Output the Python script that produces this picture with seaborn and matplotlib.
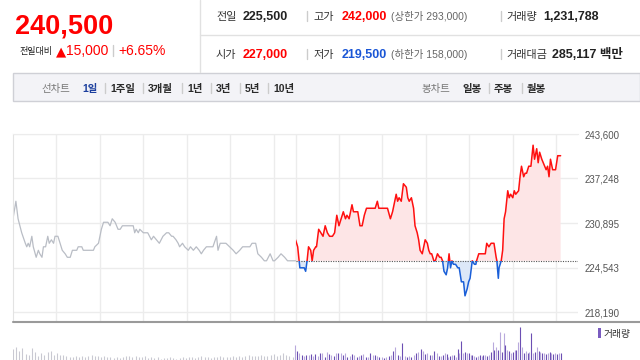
import numpy as np
import matplotlib
matplotlib.use('Agg')
import matplotlib.pyplot as plt
import seaborn as sns
from matplotlib.patches import Rectangle
from matplotlib.lines import Line2D

sns.set_style('white')
plt.rcParams['font.family'] = ['Liberation Sans', 'Noto Sans CJK KR', 'DejaVu Sans']

PREV_CLOSE = 225500

# minutes from previous day's 09:00 (0..390 = previous day, 390..780 = today)
prev_min = [0, 4, 7, 12, 17, 19, 21, 23, 26, 28, 32, 35, 37, 40, 42, 45, 48, 50, 53, 56,
            58, 62, 68, 72, 75, 79, 82, 88, 90, 95, 97, 111, 113, 118, 120, 122, 125, 131, 134, 137,
            141, 143, 145, 148, 151, 166, 168, 170, 173, 175, 180, 186, 191, 194, 198, 202, 207, 212, 215, 219,
            221, 225, 228, 230, 234, 237, 242, 245, 249, 253, 257, 260, 263, 267, 271, 276, 281, 283, 286, 294,
            299, 304, 308, 313, 317, 322, 327, 330, 335, 338, 343, 347, 350, 355, 359, 361, 366, 370, 375, 379,
            390]
prev_price = [231500, 234000, 231500, 229500, 228000, 227500, 228000, 227500, 229000, 227500,
              226000, 227000, 226500, 226000, 227500, 227500, 229000, 228000, 228500, 228000,
              229000, 229000, 227000, 226500, 226000, 226000, 227000, 227000, 227500, 227500,
              227000, 227000, 227500, 228000, 229000, 230000, 231000, 231000, 230500, 231500,
              231000, 230500, 230000, 230000, 230500, 230500, 229500, 230000, 229500, 230000,
              229500, 229500, 228500, 229000, 228500, 228000, 229000, 229500, 229500, 229000,
              229000, 228500, 228000, 227500, 228000, 227500, 227000, 227500, 227000, 227500,
              227000, 226500, 227000, 227500, 227500, 227500, 229000, 227000, 228000, 228000,
              227500, 227000, 226500, 227000, 227500, 227500, 227500, 228000, 228000, 226500,
              226000, 225500, 225500, 226500, 225500, 225500, 226000, 226500, 226000, 225500,
              225500]

today_min = [390, 393, 395, 396, 400, 402, 404, 406, 408, 411,
             413, 415, 418, 419, 422, 425, 428, 431, 434, 437,
             441, 444, 447, 450, 453, 456, 459, 461, 464, 465,
             468, 470, 474, 476, 479, 482, 485, 488, 491, 496,
             498, 500, 503, 505, 510, 514, 517, 521, 524, 529,
             531, 533, 536, 539, 543, 545, 547, 550, 553, 555,
             558, 560, 562, 565, 567, 569, 572, 574, 576, 578,
             581, 583, 586, 589, 591, 593, 595, 598, 600, 602,
             604, 606, 608, 611, 614, 616, 619, 622, 624, 627,
             629, 631, 634, 637, 639, 640, 643, 646, 649, 652,
             654, 657, 660, 664, 667, 668, 670, 671, 674, 676,
             678, 680, 683, 685, 687, 690, 692, 694, 698, 700,
             702, 705, 707, 709, 712, 715, 718, 720, 723, 725,
             727, 730, 732, 736, 738, 740, 742, 745, 747, 749,
             752, 754, 756]
today_price = [228500, 227500, 225500, 224500, 224500, 224500, 224000, 225500, 227500, 227000,
               225500, 227000, 227500, 227500, 230000, 229500, 229000, 230500, 229500, 229000,
               229000, 229500, 232000, 230500, 231500, 232500, 231500, 232000, 231500, 232000,
               233500, 232500, 232500, 232500, 230500, 230500, 232000, 233000, 233000, 233000,
               233000, 233000, 234000, 233000, 233000, 233000, 233000, 231500, 232500, 235000,
               234000, 234500, 234000, 236500, 236000, 234500, 234000, 234500, 233000, 230500,
               229500, 228500, 227000, 226500, 227500, 228500, 228000, 227000, 226500, 226500,
               225500, 225500, 226500, 226000, 226000, 225500, 224000, 223500, 224500, 226500,
               224500, 225500, 225000, 225000, 224500, 224500, 222500, 222500, 220500, 221500,
               222500, 223000, 225500, 225000, 225000, 225500, 226500, 226500, 226500, 226500,
               228000, 227500, 228000, 228000, 226000, 225500, 223000, 224500, 225500, 227000,
               231500, 232500, 235500, 234500, 235000, 234500, 235500, 235000, 235500, 237500,
               239000, 237500, 238000, 238000, 239000, 239000, 242000, 240000, 241500, 239500,
               241000, 240000, 239500, 238500, 239000, 237500, 240000, 238500, 238500, 238500,
               240500, 240500, 240500]

# volume (thousand shares per bar)
prev_vol = [11, 13, 9, 12, 6, 5, 12, 8, 4, 7, 5, 8, 9, 5, 7, 5, 5, 4, 3, 3,
            4, 3, 4, 3, 4, 5, 4, 4, 3, 4, 3, 3, 2, 3, 2, 3, 4, 4, 3, 4,
            3, 3, 4, 2, 3, 2, 3, 1, 2, 2, 3, 2, 1, 2, 3, 2, 3, 3, 2, 3,
            4, 3, 3, 2, 3, 3, 4, 3, 3, 3, 4, 3, 4, 3, 4, 5, 4, 4, 4, 5,
            4, 4, 5, 6, 4, 5, 7, 5, 4, 3]
vol_am = [15, 9, 6.7, 5, 4, 5.3, 5, 6, 4, 5.7, 4, 6.7, 7.3, 3.3, 8, 5.7, 5, 4, 6.7, 7.3,
          6.7, 4.7, 6.7, 3.3, 4, 6, 4.7, 3.3, 4, 5, 6, 3.3, 2.7, 7.3, 5.3, 4.7, 4, 3.3, 2.7, 2.3,
          2.7, 4, 5.3, 9.3, 13.3, 4.7, 4, 16.7, 4, 3.3, 4, 3.3, 5.3, 6.7, 8, 10.7, 8.7, 6, 6.7, 5.3,
          4.7, 8.7, 6.7, 4]
vol_pm = [4, 5.3, 7.3, 6, 3.3, 4, 4.7, 5.3, 3.3, 11.3, 6.7, 19.3, 6.7, 8, 7.3, 6.7, 5.3, 4.7, 4, 3.3,
          4, 4.7, 4, 5.3, 4.7, 4, 4.7, 8, 18.3, 10, 13.3, 10, 28.3, 8, 27.3, 15.3, 10, 8.7, 6.7, 8,
          10, 10, 18.3, 33.3, 13.3, 6.7, 8.7, 7.3, 8.3, 27.3, 6.7, 8.3, 12.7, 9.3, 8, 6.7, 7.3, 6, 6.7, 8,
          6.7, 6, 6.7, 6, 7.3, 6.7]

y_ticks = [218190, 224543, 230895, 237248, 243600]
grid_min = [60, 120, 180, 240, 300, 360, 390, 450, 510, 570, 630, 690, 750]

W, H = 640, 360
fig = plt.figure(figsize=(6.4, 3.6), dpi=100)
fig.patch.set_facecolor('white')


def fx(x):
    return x / W


def fy(y):
    return 1 - y / H


def txt(x, y, s, size=8, color='#333333', weight='normal', ha='left', family=None):
    kw = {'family': family} if family else {}
    fig.text(fx(x), fy(y), s, fontsize=size, color=color, fontweight=weight,
             ha=ha, va='baseline', **kw)


def fline(xs, ys, color='#e1e1e1', lw=1):
    fig.add_artist(Line2D([fx(v) for v in xs], [fy(v) for v in ys], color=color, lw=lw))


# header
fline([199.5, 199.5], [0, 72])
fline([200, 640], [34.5, 34.5])
txt(15, 33, '240,500', size=19.5, color='#ff0000', weight='bold')
txt(19, 54, '전일대비', size=6.5, color='#222222')
txt(55.5, 55, '▲', size=9.5, color='#ff0000', family=['DejaVu Sans'])
txt(66, 55, '15,000', size=10, color='#ff0000')
fline([112.5, 112.5], [45, 56], color='#cccccc')
txt(118, 55, '+6.65%', size=10, color='#ff0000')

red, blue, dark, grey = '#ff0000', '#1a56d6', '#222222', '#666666'
rows = [
    (20, [('전일', '225,500', dark, None), ('고가', '242,000', red, '(상한가 293,000)'),
          ('거래량', '1,231,788', dark, None)]),
    (58, [('시가', '227,000', red, None), ('저가', '219,500', blue, '(하한가 158,000)'),
          ('거래대금', '285,117 백만', dark, None)]),
]
for yb, items in rows:
    for (lab, val, col, extra), (x0, xv) in zip(items, [(216, 243), (313, 342), (506, 0)]):
        txt(x0, yb, lab, size=8, color='#333333')
        if xv == 0:
            xv = 543 if lab == '거래량' else 552
        txt(xv, yb, val, size=9, color=col, weight='bold')
        if extra:
            txt(391, yb, extra, size=7.5, color=grey)
    fline([307, 307], [yb - 9, yb + 1], color='#cccccc')
    fline([501, 501], [yb - 9, yb + 1], color='#cccccc')

# toolbar
fig.add_artist(Rectangle((fx(13), fy(101)), fx(640) - fx(13), 28 / H, transform=fig.transFigure,
                         facecolor='#f3f3f7', edgecolor='#cfd0d6', lw=1))
txt(41, 92, '선차트', size=7.5, color='#777777')
menu = [('1일', 82), ('1주일', 110), ('3개월', 148), ('1년', 187), ('3년', 216), ('5년', 245), ('10년', 273)]
for i, (s, x) in enumerate(menu):
    txt(x, 92, s, size=7.5, color='#1c3f9e' if i == 0 else '#2a2a2a', weight='bold')
    if i > 0:
        fline([x - 5.5, x - 5.5], [83, 93], color='#cccccc')
txt(422, 92, '봉차트', size=7.5, color='#777777')
for i, (s, x) in enumerate([('일봉', 462), ('주봉', 494), ('월봉', 527)]):
    txt(x, 92, s, size=7.5, color='#2a2a2a', weight='bold')
    if i > 0:
        fline([x - 5.5, x - 5.5], [83, 93], color='#cccccc')

# price chart
ax = fig.add_axes([fx(13), fy(321), (578 - 13) / W, (321 - 134) / H])
ax.set_xlim(0, 780)
ax.set_ylim(216906, 243600)
ax.set_axisbelow(True)

tp = np.array(today_price)
ax.fill_between(today_min, tp, PREV_CLOSE, where=tp >= PREV_CLOSE, interpolate=True,
                color='#fde5e6', lw=0)
ax.fill_between(today_min, tp, PREV_CLOSE, where=tp <= PREV_CLOSE, interpolate=True,
                color='#dde8f8', lw=0)

sns.lineplot(x=prev_min, y=prev_price, ax=ax, color='#b9bdc5', lw=0.9)
ax.hlines(PREV_CLOSE, 390, 780, color='#555555', lw=0.8, linestyles=(0, (1, 1.2)))

sns.lineplot(x=today_min, y=today_price, ax=ax, color='#ff1010', lw=1.1)
ax.lines[-1].set_clip_path(Rectangle((390, PREV_CLOSE), 400, 30000, transform=ax.transData))
sns.lineplot(x=today_min, y=today_price, ax=ax, color='#1a5fd8', lw=1.1)
ax.lines[-1].set_clip_path(Rectangle((390, 200000), 400, PREV_CLOSE - 200000, transform=ax.transData))

ax.set_xticks(grid_min)
ax.set_yticks(y_ticks)
ax.set_yticklabels([f'{v:,}' for v in y_ticks])
ax.grid(True, color='#ececec', lw=1)
ax.yaxis.tick_right()
ax.tick_params(axis='x', length=0, labelbottom=False)
ax.tick_params(axis='y', length=0, pad=5, labelsize=7, labelcolor='#555555')
ax.set_xlabel('')
ax.set_ylabel('')
for side in ['right', 'bottom']:
    ax.spines[side].set_visible(False)
ax.spines['left'].set_color('#e3e3e3')
ax.spines['top'].set_color('#ececec')

fline([13, 640], [321.5, 321.5], color='#9a9a9a', lw=1.5)

# volume
vax = fig.add_axes([fx(13), 0, (578 - 13) / W, (360 - 322) / H])
vax.set_xlim(0, 780)
vax.set_ylim(0, 38)
vax.axis('off')
vax.vlines(np.linspace(0, 386, len(prev_vol)), 0, prev_vol, color='#c9c9d2', lw=0.8)
t_today = np.concatenate([np.linspace(389, 588, len(vol_am)), np.linspace(591, 756, len(vol_pm))])
v_today = vol_am + vol_pm
cols = ['#6c4fb3' if i % 2 else '#b8a9dc' for i in range(len(v_today))]
vax.vlines(t_today, 0, v_today, colors=cols, lw=0.8)

fig.add_artist(Rectangle((fx(598), fy(338)), 3 / W, 10 / H, transform=fig.transFigure,
                         facecolor='#7a5cc0', lw=0))
txt(604, 337, '거래량', size=7, color='#333333')

fig.savefig('out.png', dpi=100)
